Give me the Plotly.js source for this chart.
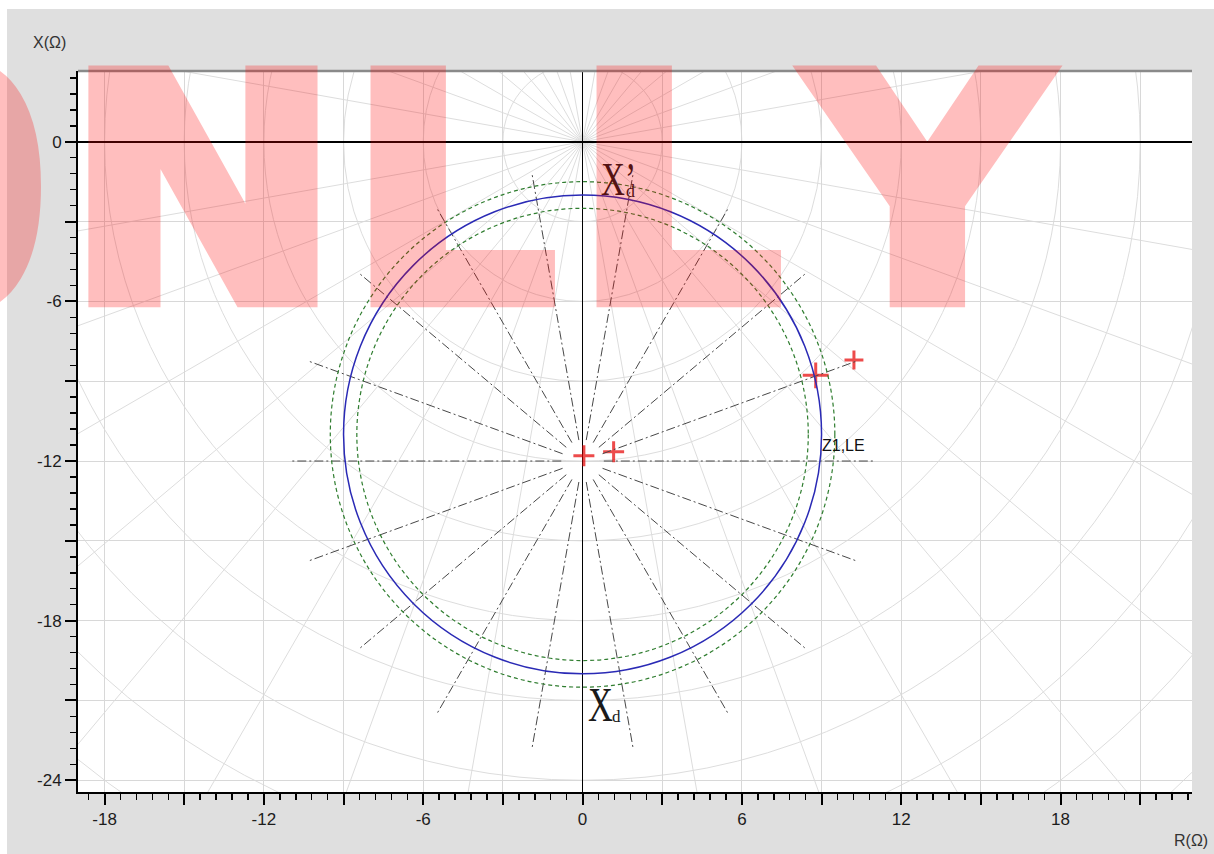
<!DOCTYPE html>
<html>
<head>
<meta charset="utf-8">
<script src="https://cdn.plot.ly/plotly-3.0.1.min.js"></script>
<style>
  html, body { margin: 0; padding: 0; background: #ffffff; width: 1214px; height: 854px; overflow: hidden; }
  #chart { position: absolute; left: 7px; top: 9px; width: 1207px; height: 845px; }
  #brand { position: absolute; left: 0; top: 0; width: 1214px; height: 854px; pointer-events: none; }
</style>
</head>
<body>
<div id="chart"></div>
<svg id="brand" width="1214" height="854" xmlns="http://www.w3.org/2000/svg"></svg>
<script>
// ---- Loss-of-excitation characteristic (Ω) ----
const xdPrime = 2.0;          // X'd : top of the circle at -X'd
const xd = 20.0;              // Xd  : bottom of the circle at -Xd
const toleranceBand = 0.5;    // ± band drawn round the characteristic

// ---- Search lines of the test ----
const searchCenter = [0, -12];
const searchAngles = [0, 20, 40, 60, 80, 100, 120, 140, 160, 180, 200, 220, 240, 260, 280, 300, 320, 340];
const searchStart = 0.8;
const searchReach = 11;

// ---- Test points (R, X) ----
const pointR = [0.05, 1.17, 8.78, 10.22];
const pointX = [-11.8, -11.65, -8.78, -8.2];

// ---- Axis ticks ----
const xTickVals = [-18, -15, -12, -9, -6, -3, 0, 3, 6, 9, 12, 15, 18, 21];
const xTickText = ['-18', '', '-12', '', '-6', '', '0', '', '6', '', '12', '', '18', ''];
const yTickVals = [-24, -21, -18, -15, -12, -9, -6, -3, 0];
const yTickText = ['-24', '', '-18', '', '-12', '', '-6', '', '0'];

// ---- Polar background grid round the origin ----
const gridRadii = [3, 6, 9, 12, 15, 18, 21, 24, 27, 30, 33];
const gridAngles = [0, 10, 20, 30, 40, 50, 60, 70, 80, 90, 100, 110, 120, 130, 140, 150, 160, 170,
                    180, 190, 200, 210, 220, 230, 240, 250, 260, 270, 280, 290, 300, 310, 320, 330, 340, 350];

// ---- Brand mark ----
const brandLead = 'O';
const brandRest = ['N', 'L', 'L', 'Y'];

// ---------------------------------------------------------------
const rad = d => d * Math.PI / 180;
const polarGridColor = '#dddddd';
const shapes = [];

gridRadii.forEach(r => shapes.push({
  type: 'circle', xref: 'x', yref: 'y', layer: 'below',
  x0: -r, x1: r, y0: -r, y1: r,
  line: { color: polarGridColor, width: 1 }
}));
gridAngles.forEach(a => shapes.push({
  type: 'line', xref: 'x', yref: 'y', layer: 'below',
  x0: 0, y0: 0, x1: 45 * Math.cos(rad(a)), y1: 45 * Math.sin(rad(a)),
  line: { color: polarGridColor, width: 1 }
}));

// search lines (dash-dot) from the search centre
searchAngles.forEach(a => shapes.push({
  type: 'line', xref: 'x', yref: 'y', layer: 'above',
  x0: searchCenter[0] + searchStart * Math.cos(rad(a)),
  y0: searchCenter[1] + searchStart * Math.sin(rad(a)),
  x1: searchCenter[0] + searchReach * Math.cos(rad(a)),
  y1: searchCenter[1] + searchReach * Math.sin(rad(a)),
  line: { color: '#474747', width: 1, dash: '9px,3px,2px,3px' }
}));

// characteristic circle and its tolerance band
const cTop = -xdPrime, cBottom = -xd;
const cRad = (cTop - cBottom) / 2;
const cMid = (cTop + cBottom) / 2;
[cRad + toleranceBand, cRad - toleranceBand].forEach(r => shapes.push({
  type: 'circle', xref: 'x', yref: 'y', layer: 'above',
  x0: -r, x1: r, y0: cMid - r, y1: cMid + r,
  line: { color: '#2f7d2f', width: 1.2, dash: '4px,3px' }
}));
shapes.push({
  type: 'circle', xref: 'x', yref: 'y', layer: 'above',
  x0: -cRad, x1: cRad, y0: cBottom, y1: cTop,
  line: { color: '#2a2ab5', width: 1.5 }
});

// upper frame edge
shapes.push({
  type: 'line', xref: 'paper', yref: 'paper', x0: 0, x1: 1, y0: 1, y1: 1,
  line: { color: '#8a8a8a', width: 2.5 }
});

const tickFont = { family: 'Liberation Sans, Arial, sans-serif', size: 17, color: '#1c1c1c' };
const serif = 'Liberation Serif, Times New Roman, serif';

const annotations = [
  { text: 'X(Ω)', xref: 'paper', yref: 'paper', x: -0.0254, y: 1.040, showarrow: false,
    xanchor: 'center', yanchor: 'middle', font: { family: tickFont.family, size: 16, color: '#333' } },
  { text: 'R(Ω)', xref: 'paper', yref: 'paper', x: 0.9994, y: -0.067, showarrow: false,
    xanchor: 'center', yanchor: 'middle', font: { family: tickFont.family, size: 16, color: '#333' } },
  { text: 'X’', xref: 'x', yref: 'y', x: 0.69, y: -2.38, showarrow: false, borderpad: 0, borderwidth: 0,
    xanchor: 'left', yanchor: 'bottom', font: { family: serif, size: 46, color: '#1a1a1a' } },
  { text: 'd', xref: 'x', yref: 'y', x: 1.62, y: -2.22, showarrow: false, borderpad: 0, borderwidth: 0,
    xanchor: 'left', yanchor: 'bottom', font: { family: serif, size: 18, color: '#1a1a1a' } },
  { text: 'X', xref: 'x', yref: 'y', x: 0.20, y: -22.13, showarrow: false, borderpad: 0, borderwidth: 0,
    xanchor: 'left', yanchor: 'bottom', font: { family: serif, size: 48, color: '#1a1a1a' } },
  { text: 'd', xref: 'x', yref: 'y', x: 1.12, y: -21.95, showarrow: false, borderpad: 0, borderwidth: 0,
    xanchor: 'left', yanchor: 'bottom', font: { family: serif, size: 17, color: '#1a1a1a' } },
  { text: 'Z1,LE', xref: 'x', yref: 'y', x: 8.94, y: -11.42, showarrow: false,
    xanchor: 'left', yanchor: 'middle', font: { family: tickFont.family, size: 16, color: '#111' } }
];
const narrowLabels = [2, 4];   // tall, narrow reactance glyphs

// cross-thin arms reach 0.7 × size on each side
const traces = [{
  type: 'scatter', mode: 'markers', x: pointR, y: pointX, hoverinfo: 'skip',
  marker: { symbol: 'cross-thin', size: [15, 15, 18.5, 13.5], line: { color: '#e60000', width: 3 } },
  showlegend: false
}];

const axisCommon = {
  tickmode: 'array', ticks: 'outside', ticklen: 11, tickwidth: 2, tickcolor: '#000',
  showline: true, linecolor: '#000', linewidth: 2,
  showgrid: true, gridcolor: '#d8d8d8', gridwidth: 1,
  zeroline: true, zerolinecolor: '#000', zerolinewidth: 1.5,
  tickfont: tickFont, fixedrange: true,
  minor: { tickmode: 'linear', tick0: 0, dtick: 0.6, ticks: 'outside', ticklen: 6, tickwidth: 1.5, tickcolor: '#000', showgrid: false }
};

const layout = {
  width: 1207, height: 845,
  margin: { l: 71, r: 22, t: 62, b: 62, pad: 0 },
  paper_bgcolor: '#dfdfdf', plot_bgcolor: '#ffffff',
  xaxis: Object.assign({}, axisCommon, { range: [-19.0, 22.95], tickvals: xTickVals, ticktext: xTickText }),
  yaxis: Object.assign({}, axisCommon, { range: [-24.44, 2.66], tickvals: yTickVals, ticktext: yTickText }),
  shapes: shapes,
  annotations: annotations,
  showlegend: false
};

Plotly.newPlot('chart', traces, layout, { displayModeBar: false, staticPlot: true }).then(gd => {
  narrowLabels.forEach(i => {
    const t = gd.querySelector('.annotation[data-index="' + i + '"] text.annotation-text');
    if (t) {
      t.style.transformBox = 'fill-box';
      t.style.transformOrigin = '0% 50%';
      t.style.transform = 'scaleX(0.72)';
    }
  });
  drawBrand();
});

// Translucent brand lettering laid over the whole chart
function drawBrand() {
  const NS = 'http://www.w3.org/2000/svg';
  const svg = document.getElementById('brand');
  const fam = '"DejaVu Sans", "Liberation Sans", sans-serif';
  const fs = 300, sw = 12;
  // ink extents of the letters on the page, px
  const restInkX = [[85, 318], [367, 559], [593, 785], [795, 1058]];
  const leadInkRight = 45, leadStretch = 0.58;
  const inkTop = 64, inkBottom = 307;

  const ctx = document.createElement('canvas').getContext('2d');
  ctx.font = 'bold ' + fs + 'px ' + fam;
  const measure = ch => {
    const m = ctx.measureText(ch);
    return { l: -m.actualBoundingBoxLeft, r: m.actualBoundingBoxRight,
             t: -m.actualBoundingBoxAscent, b: m.actualBoundingBoxDescent };
  };
  const ink = brandRest.map(measure);
  const n = ink[0];
  const sy = (inkBottom - inkTop - sw) / (n.b - n.t);
  let sum = 0;
  restInkX.forEach((e, i) => { sum += (e[1] - e[0] - sw) / (ink[i].r - ink[i].l); });
  const sx = sum / restInkX.length;
  const baseY = inkTop + sw / 2 - n.t * sy;

  const g = document.createElementNS(NS, 'g');
  g.setAttribute('opacity', '0.25');
  const style = el => {
    el.setAttribute('font-family', fam);
    el.setAttribute('font-size', fs);
    el.setAttribute('font-weight', 'bold');
    el.setAttribute('fill', '#ff0000');
    el.setAttribute('stroke', '#ff0000');
    el.setAttribute('stroke-width', sw);
    el.setAttribute('stroke-linejoin', 'miter');
    el.setAttribute('vector-effect', 'non-scaling-stroke');
  };

  // leading letter, running off the left edge of the page
  const o = measure(brandLead);
  const osx = sx * leadStretch;
  const lead = document.createElementNS(NS, 'text');
  style(lead);
  const oLeft = leadInkRight - sw / 2 - (o.r - o.l) * osx;
  lead.setAttribute('transform', 'translate(' + (oLeft - o.l * osx) + ',' + baseY + ') scale(' + osx + ',' + sy + ')');
  lead.textContent = brandLead;
  g.appendChild(lead);

  const text = document.createElementNS(NS, 'text');
  style(text);
  text.setAttribute('transform', 'translate(0,' + baseY + ') scale(' + sx + ',' + sy + ')');
  brandRest.forEach((ch, i) => {
    const e = restInkX[i], k = ink[i];
    const w = (k.r - k.l) * sx;
    const left = (e[0] + e[1]) / 2 - w / 2;
    const ts = document.createElementNS(NS, 'tspan');
    ts.setAttribute('x', left / sx - k.l);
    ts.setAttribute('y', 0);
    ts.textContent = ch;
    text.appendChild(ts);
  });
  g.appendChild(text);
  svg.appendChild(g);
}
</script>
</body>
</html>
